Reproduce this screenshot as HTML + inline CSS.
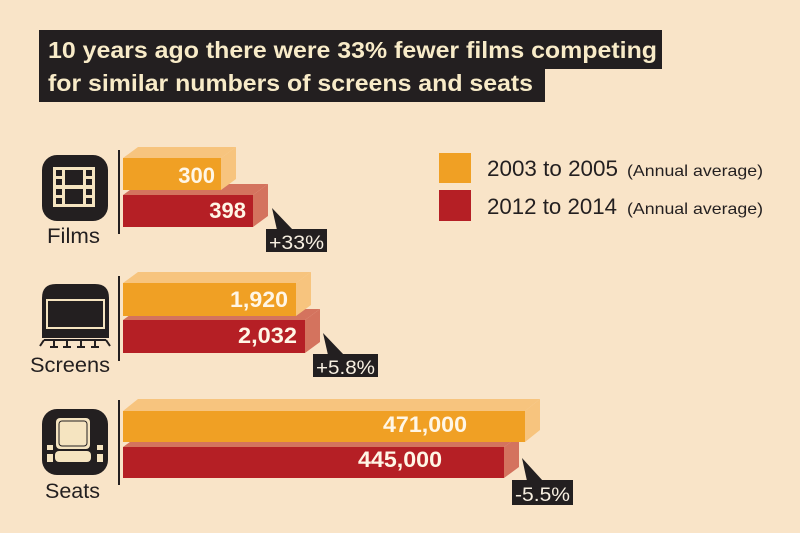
<!DOCTYPE html>
<html><head><meta charset="utf-8"><style>
html,body{margin:0;padding:0;background:#f9e4c8;}
svg{display:block;}
text{font-family:"Liberation Sans",sans-serif;}
</style></head><body>
<svg width="800" height="533" viewBox="0 0 800 533" xmlns="http://www.w3.org/2000/svg">
<rect width="800" height="533" fill="#f9e4c8"/>
<!-- title -->
<rect x="39" y="30" width="623" height="39" fill="#231f20"/>
<rect x="39" y="66" width="506" height="36" fill="#231f20"/>
<text x="48" y="58" font-size="23" font-weight="bold" fill="#f8ebc8" textLength="609" lengthAdjust="spacingAndGlyphs">10 years ago there were 33% fewer films competing</text>
<text x="48" y="91" font-size="23" font-weight="bold" fill="#f8ebc8" textLength="485" lengthAdjust="spacingAndGlyphs">for similar numbers of screens and seats</text>

<!-- legend -->
<rect x="439" y="153" width="32" height="30" fill="#f0a024"/>
<rect x="439" y="190" width="32" height="31" fill="#b51f25"/>
<text x="487" y="176" font-size="22" fill="#231f20" textLength="131" lengthAdjust="spacingAndGlyphs">2003 to 2005</text>
<text x="627" y="176" font-size="16" fill="#231f20" textLength="136" lengthAdjust="spacingAndGlyphs">(Annual average)</text>
<text x="487" y="214" font-size="22" fill="#231f20" textLength="130" lengthAdjust="spacingAndGlyphs">2012 to 2014</text>
<text x="627" y="214" font-size="16" fill="#231f20" textLength="136" lengthAdjust="spacingAndGlyphs">(Annual average)</text>

<!-- axis lines -->
<rect x="118" y="150" width="2" height="84" fill="#231f20"/>
<rect x="118" y="276" width="2" height="85" fill="#231f20"/>
<rect x="118" y="400" width="2" height="85" fill="#231f20"/>

<!-- FILMS bars -->
<g>
<polygon points="123,195 138,184 268,184 253,195" fill="#d4735e"/>
<polygon points="253,195 268,184 268,216 253,227" fill="#d4735e"/>
<rect x="123" y="195" width="130" height="32" fill="#b51f25"/>
<polygon points="123,158 138,147 236,147 221,158" fill="#f7c47e"/>
<polygon points="221,158 236,147 236,179 221,190" fill="#f7c47e"/>
<rect x="123" y="158" width="98" height="32" fill="#f0a024"/>
<text x="215" y="183" font-size="22" font-weight="bold" fill="#fff6e6" text-anchor="end">300</text>
<text x="246" y="218" font-size="22" font-weight="bold" fill="#fff6e6" text-anchor="end">398</text>
</g>
<!-- SCREENS bars -->
<g>
<polygon points="123,320 138,309 320,309 305,320" fill="#d4735e"/>
<polygon points="305,320 320,309 320,342 305,353" fill="#d4735e"/>
<rect x="123" y="320" width="182" height="33" fill="#b51f25"/>
<polygon points="123,283 138,272 311,272 296,283" fill="#f7c47e"/>
<polygon points="296,283 311,272 311,305 296,316" fill="#f7c47e"/>
<rect x="123" y="283" width="173" height="33" fill="#f0a024"/>
<text x="288" y="307" font-size="22" font-weight="bold" fill="#fff6e6" text-anchor="end" textLength="58" lengthAdjust="spacingAndGlyphs">1,920</text>
<text x="297" y="343" font-size="22" font-weight="bold" fill="#fff6e6" text-anchor="end" textLength="59" lengthAdjust="spacingAndGlyphs">2,032</text>
</g>
<!-- SEATS bars -->
<g>
<polygon points="123,447 138,436 519,436 504,447" fill="#d4735e"/>
<polygon points="504,447 519,436 519,467 504,478" fill="#d4735e"/>
<rect x="123" y="447" width="381" height="31" fill="#b51f25"/>
<polygon points="123,411 138,399 540,399 525,411" fill="#f7c47e"/>
<polygon points="525,411 540,399 540,430 525,442" fill="#f7c47e"/>
<rect x="123" y="411" width="402" height="31" fill="#f0a024"/>
<text x="383" y="432" font-size="22" font-weight="bold" fill="#fff6e6" textLength="84" lengthAdjust="spacingAndGlyphs">471,000</text>
<text x="358" y="467" font-size="22" font-weight="bold" fill="#fff6e6" textLength="84" lengthAdjust="spacingAndGlyphs">445,000</text>
</g>

<!-- callouts -->
<polygon points="272,208 277,230 293,230" fill="#231f20"/>
<rect x="266" y="229" width="61" height="23" fill="#231f20"/>
<text x="296.5" y="249" font-size="19" fill="#f8f0e2" text-anchor="middle" textLength="55" lengthAdjust="spacingAndGlyphs">+33%</text>

<polygon points="323,333 328,355 344,355" fill="#231f20"/>
<rect x="313" y="354" width="65" height="23" fill="#231f20"/>
<text x="345.5" y="374" font-size="19" fill="#f8f0e2" text-anchor="middle" textLength="59" lengthAdjust="spacingAndGlyphs">+5.8%</text>

<polygon points="522,458 527,481 543,481" fill="#231f20"/>
<rect x="512" y="480" width="61" height="25" fill="#231f20"/>
<text x="542.5" y="501" font-size="19" fill="#f8f0e2" text-anchor="middle" textLength="55" lengthAdjust="spacingAndGlyphs">-5.5%</text>

<!-- labels -->
<text x="47" y="243" font-size="21" fill="#231f20" textLength="53" lengthAdjust="spacingAndGlyphs">Films</text>
<text x="30" y="372" font-size="21" fill="#231f20" textLength="80" lengthAdjust="spacingAndGlyphs">Screens</text>
<text x="45" y="498" font-size="21" fill="#231f20" textLength="55" lengthAdjust="spacingAndGlyphs">Seats</text>

<!-- film icon -->
<rect x="42" y="155" width="66" height="66" rx="15" fill="#231f20"/>
<rect x="53" y="167" width="42" height="40" fill="#f5e4c0"/>
<rect x="65" y="170" width="18" height="15" fill="#231f20"/>
<rect x="65" y="189" width="18" height="15" fill="#231f20"/>
<rect x="56" y="170" width="6" height="6" fill="#231f20"/>
<rect x="56" y="179" width="6" height="6" fill="#231f20"/>
<rect x="56" y="189" width="6" height="6" fill="#231f20"/>
<rect x="56" y="198" width="6" height="6" fill="#231f20"/>
<rect x="86" y="170" width="6" height="6" fill="#231f20"/>
<rect x="86" y="179" width="6" height="6" fill="#231f20"/>
<rect x="86" y="189" width="6" height="6" fill="#231f20"/>
<rect x="86" y="198" width="6" height="6" fill="#231f20"/>

<!-- screen icon -->
<path d="M42,338 L42,298 Q42,284 56,284 L95,284 Q109,284 109,298 L109,338 Z" fill="#231f20"/>
<rect x="47" y="300" width="57" height="28" fill="none" stroke="#f5e4c0" stroke-width="2"/>
<g stroke="#231f20" stroke-width="2" fill="none">
<path d="M44,340 L106,340"/>
<path d="M54,340 L54,347 M67,340 L67,347 M81,340 L81,347 M95,340 L95,347"/>
<path d="M44,340 L40,346 M106,340 L110,346"/>
<path d="M50,347 L58,347 M63,347 L71,347 M77,347 L85,347 M91,347 L99,347"/>
</g>

<!-- seat icon -->
<rect x="42" y="409" width="66" height="66" rx="15" fill="#231f20"/>
<rect x="56" y="418" width="34" height="31" rx="4" fill="#f5e4c0"/>
<rect x="59" y="421" width="28" height="25" rx="3" fill="none" stroke="#231f20" stroke-width="1"/>
<rect x="55" y="451" width="36" height="11" rx="4" fill="#f5e4c0"/>
<rect x="47" y="445" width="6" height="5" fill="#f5e4c0"/>
<rect x="47" y="454" width="6" height="8" fill="#f5e4c0"/>
<rect x="97" y="445" width="6" height="5" fill="#f5e4c0"/>
<rect x="97" y="454" width="6" height="8" fill="#f5e4c0"/>
</svg>
</body></html>
